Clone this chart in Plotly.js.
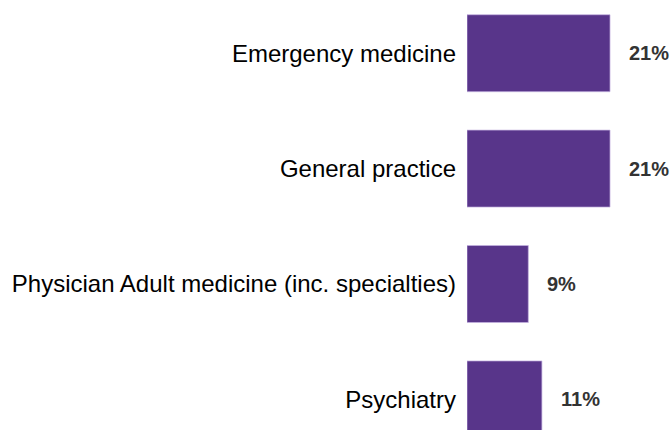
<!DOCTYPE html>
<html>
<head>
<meta charset="utf-8">
<script src="https://cdn.plot.ly/plotly-3.0.1.min.js"></script>
<style>html,body{margin:0;padding:0;background:#fff;}#chart{width:672px;height:430px;}</style>
</head>
<body>
<div id="chart"></div>
<script>
const categories = ["Emergency medicine", "General practice", "Physician Adult medicine (inc. specialties)", "Psychiatry"];
const values = [21, 21, 9, 11];
const valueLabels = values.map(v => v + "%");

const FONT = "Liberation Sans, Arial, Helvetica, sans-serif";

const trace = {
  type: "bar",
  orientation: "h",
  y: categories,
  x: values,
  marker: { color: "#58358a", line: { color: "rgba(196,178,224,0.9)", width: 0.8 } },
  hoverinfo: "none"
};

const annotations = categories.map((c, i) => ({
  x: values[i], y: c, xref: "x", yref: "y",
  text: valueLabels[i], showarrow: false,
  xanchor: "left", yanchor: "middle", xshift: 17,
  font: { family: FONT, size: 20, weight: "bold", color: "#333333" }
}));

const layout = {
  width: 672, height: 430,
  margin: { l: 467, r: 0, t: 0, b: 0 },
  paper_bgcolor: "#ffffff", plot_bgcolor: "#ffffff",
  showlegend: false,
  bargap: 0.333,
  xaxis: { range: [0, 30.1], visible: false, fixedrange: true },
  yaxis: {
    type: "category",
    range: [3.265, -0.461],
    showgrid: false, zeroline: false, showline: false,
    ticks: "", ticklabelstandoff: 10,
    tickfont: { family: FONT, size: 24, color: "#000000" },
    fixedrange: true
  },
  annotations: annotations
};

Plotly.newPlot("chart", [trace], layout, { displayModeBar: false, staticPlot: true });
</script>
</body>
</html>
